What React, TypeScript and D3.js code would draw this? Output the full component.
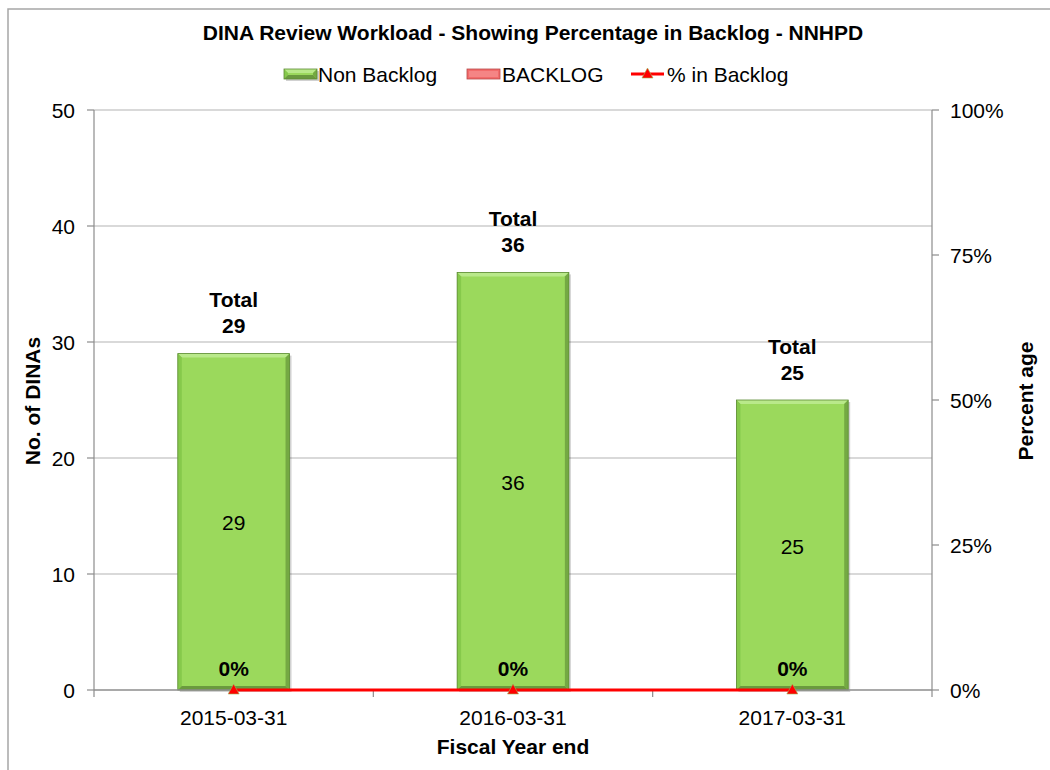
import * as d3 from "d3";

const categories = ["2015-03-31", "2016-03-31", "2017-03-31"];
const nonBacklog = [29, 36, 25];
const backlog = [0, 0, 0];
const pctBacklog = [0, 0, 0];
const leftTicks = [0, 10, 20, 30, 40, 50];
const rightTicks = [0, 0.25, 0.5, 0.75, 1];

const W = 1050;
const H = 770;
const PLOT = { left: 94, right: 932, top: 110, bottom: 690 };
const FONT = "'Liberation Sans', Arial, sans-serif";
const FS = 21;

const GREEN = "#9bd95c";

function Bar({ x, y, w, h }: { x: number; y: number; w: number; h: number }) {
  const b = 4;
  if (h <= 0) return null;
  return (
    <g>
      <rect x={x + 2} y={y + 2} width={w} height={h} fill="#000" opacity={0.18} />
      <rect x={x} y={y} width={w} height={h} fill={GREEN} />
      <polygon points={`${x},${y} ${x + w},${y} ${x + w - b},${y + b} ${x + b},${y + b}`} fill="#b9e98a" />
      <polygon points={`${x},${y} ${x + b},${y + b} ${x + b},${y + h - b} ${x},${y + h}`} fill="#86c94b" />
      <polygon points={`${x + w},${y} ${x + w},${y + h} ${x + w - b},${y + h - b} ${x + w - b},${y + b}`} fill="#74a943" />
      <polygon points={`${x},${y + h} ${x + w},${y + h} ${x + w - b},${y + h - b} ${x + b},${y + h - b}`} fill="#6a9a3e" />
      <rect x={x} y={y} width={w} height={h} fill="none" stroke="#5c8a34" strokeWidth={0.8} />
    </g>
  );
}

export default function App() {
  const x = d3.scaleBand<string>().domain(categories).range([PLOT.left, PLOT.right]).paddingInner(0.6).paddingOuter(0.3);
  const xOuter = d3.scaleBand<string>().domain(categories).range([PLOT.left, PLOT.right]);
  const yL = d3.scaleLinear().domain([0, 50]).range([PLOT.bottom, PLOT.top]);
  const yR = d3.scaleLinear().domain([0, 1]).range([PLOT.bottom, PLOT.top]);
  const pctFmt = d3.format(".0%");

  const line = d3
    .line<number>()
    .x((_, i) => (x(categories[i]) as number) + x.bandwidth() / 2)
    .y((d) => yR(d));

  const tri = (cx: number, cy: number) => `${cx},${cy - 6} ${cx + 5.5},${cy + 4} ${cx - 5.5},${cy + 4}`;

  return (
    <div style={{ position: "absolute", left: 0, top: 0 }}>
      <svg width={W} height={H} style={{ display: "block", fontFamily: FONT }}>
        <rect x={0} y={0} width={W} height={H} fill="#fff" />
        {/* outer border */}
        <rect x={8} y={9} width={W + 10} height={H + 10} fill="none" stroke="#a6a6a6" strokeWidth={1.5} />

        {/* title */}
        <text x={533} y={40} textAnchor="middle" fontSize={FS} fontWeight="bold" fill="#000">
          DINA Review Workload - Showing Percentage in Backlog - NNHPD
        </text>

        {/* legend */}
        <g fontSize={FS} fill="#000">
          <Bar x={284} y={69} w={33} h={10} />
          <text x={318} y={81.5}>Non Backlog</text>
          <rect x={467} y={69} width={33} height={10} fill="#f26b6b" stroke="#b84a4a" strokeWidth={0.8} />
          <rect x={469} y={71} width={29} height={6} fill="#f58585" />
          <text x={502} y={81.5}>BACKLOG</text>
          <line x1={631} x2={664} y1={74} y2={74} stroke="#ff0000" strokeWidth={3} />
          <polygon points={tri(647.5, 74)} fill="#ff0000" stroke="#9bbb59" strokeWidth={0.6} />
          <text x={667} y={81.5}>% in Backlog</text>
        </g>

        {/* gridlines */}
        {leftTicks.filter((t) => t > 0).map((t) => (
          <line key={t} x1={PLOT.left} x2={PLOT.right} y1={yL(t)} y2={yL(t)} stroke="#b3b3b3" strokeWidth={1} />
        ))}

        {/* left axis */}
        <line x1={PLOT.left} x2={PLOT.left} y1={PLOT.top} y2={PLOT.bottom} stroke="#8c8c8c" strokeWidth={1.2} />
        {leftTicks.map((t) => (
          <g key={t}>
            <line x1={PLOT.left - 7} x2={PLOT.left} y1={yL(t)} y2={yL(t)} stroke="#8c8c8c" strokeWidth={1.2} />
            <text x={75} y={yL(t) + 7.5} textAnchor="end" fontSize={FS} fill="#000">
              {t}
            </text>
          </g>
        ))}

        {/* right axis */}
        <line x1={PLOT.right} x2={PLOT.right} y1={PLOT.top} y2={PLOT.bottom} stroke="#8c8c8c" strokeWidth={1.2} />
        {rightTicks.map((t) => (
          <g key={t}>
            <line x1={PLOT.right} x2={PLOT.right + 7} y1={yR(t)} y2={yR(t)} stroke="#8c8c8c" strokeWidth={1.2} />
            <text x={950} y={yR(t) + 7.5} textAnchor="start" fontSize={FS} fill="#000">
              {pctFmt(t)}
            </text>
          </g>
        ))}

        {/* bars */}
        {categories.map((c, i) => {
          const bx = x(c) as number;
          const cx = bx + x.bandwidth() / 2;
          const total = nonBacklog[i] + backlog[i];
          return (
            <g key={c}>
              <Bar x={bx} y={yL(nonBacklog[i])} w={x.bandwidth()} h={yL(0) - yL(nonBacklog[i])} />
              {backlog[i] > 0 && (
                <rect x={bx} y={yL(total)} width={x.bandwidth()} height={yL(nonBacklog[i]) - yL(total)} fill="#f26b6b" />
              )}
              <text x={cx} y={(yL(nonBacklog[i]) + yL(0)) / 2 + 8.5} textAnchor="middle" fontSize={FS} fill="#000">
                {nonBacklog[i]}
              </text>
              <text x={cx} y={yL(total) - 46.5} textAnchor="middle" fontSize={FS} fontWeight="bold" fill="#000">
                Total
              </text>
              <text x={cx} y={yL(total) - 20.5} textAnchor="middle" fontSize={FS} fontWeight="bold" fill="#000">
                {total}
              </text>
              <text x={cx} y={yR(pctBacklog[i]) - 14.5} textAnchor="middle" fontSize={FS} fontWeight="bold" fill="#000">
                {pctFmt(pctBacklog[i])}
              </text>
            </g>
          );
        })}

        {/* x axis */}
        <line x1={PLOT.left} x2={PLOT.right} y1={PLOT.bottom} y2={PLOT.bottom} stroke="#8c8c8c" strokeWidth={1.5} />
        {categories.map((c) => (xOuter(c) as number)).concat([PLOT.right]).map((tx) => (
          <line key={tx} x1={tx} x2={tx} y1={PLOT.bottom} y2={PLOT.bottom + 7} stroke="#8c8c8c" strokeWidth={1.2} />
        ))}
        {categories.map((c) => (
          <text key={c} x={(x(c) as number) + x.bandwidth() / 2} y={725} textAnchor="middle" fontSize={FS} fill="#000">
            {c}
          </text>
        ))}

        {/* percent line */}
        <path d={line(pctBacklog) || ""} fill="none" stroke="#ff0000" strokeWidth={3} />
        {pctBacklog.map((p, i) => (
          <polygon
            key={i}
            points={tri((x(categories[i]) as number) + x.bandwidth() / 2, yR(p))}
            fill="#ff0000"
            stroke="#9bbb59"
            strokeWidth={0.6}
          />
        ))}

        {/* axis titles */}
        <text x={513} y={754} textAnchor="middle" fontSize={FS} fontWeight="bold" fill="#000">
          Fiscal Year end
        </text>
        <text transform={`translate(39.5,401) rotate(-90)`} textAnchor="middle" fontSize={FS} fontWeight="bold" fill="#000">
          No. of DINAs
        </text>
        <text transform={`translate(1032.5,401) rotate(-90)`} textAnchor="middle" fontSize={FS} fontWeight="bold" fill="#000">
          Percent age
        </text>
      </svg>
    </div>
  );
}
